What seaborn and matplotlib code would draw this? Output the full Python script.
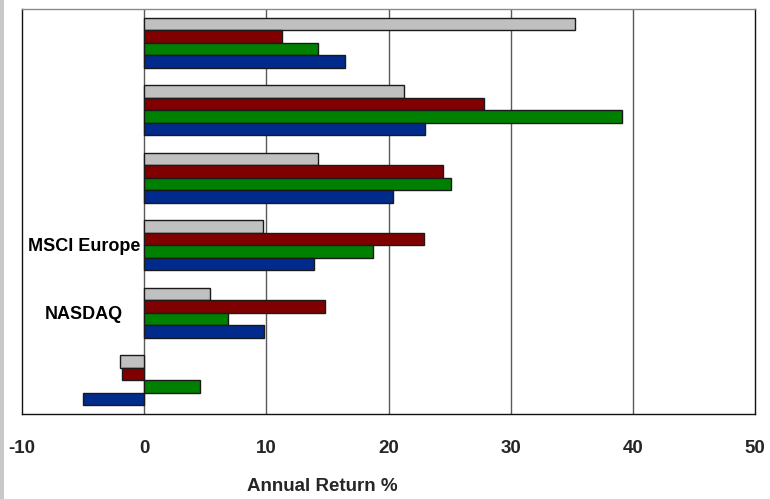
import matplotlib
matplotlib.use("Agg")
import matplotlib.pyplot as plt
import seaborn as sns
import pandas as pd
from matplotlib.patches import Rectangle

# Six categories, four return series per category (top to bottom in each group)
categories = ["C1", "C2", "C3", "C4", "C5", "C6"]
tick_labels = ["", "", "", "MSCI Europe", "NASDAQ", ""]
series = ["S1", "S2", "S3", "S4"]
colors = ["#C0C0C0", "#800000", "#008000", "#002A8C"]

s1 = [35.3, 21.3, 14.2, 9.7, 5.4, -2.0]
s2 = [11.3, 27.8, 24.5, 22.9, 14.8, -1.8]
s3 = [14.2, 39.1, 25.1, 18.7, 6.9, 4.6]
s4 = [16.4, 23.0, 20.4, 13.9, 9.8, -5.0]

x_ticks = [-10, 0, 10, 20, 30, 40, 50]

rows = []
for name, vals in zip(series, [s1, s2, s3, s4]):
    for cat, v in zip(categories, vals):
        rows.append({"category": cat, "series": name, "value": v})
df = pd.DataFrame(rows)

sns.set_theme(style="white")
plt.rcParams["font.family"] = ["Liberation Sans", "DejaVu Sans"]

fig = plt.figure(figsize=(7.7, 4.99), dpi=100)
fig.patch.set_facecolor("white")
fig.patches.append(Rectangle((0, 0), 4 / 770, 1, transform=fig.transFigure,
                             facecolor="#C8C8C8", edgecolor="none", zorder=0))

ax = fig.add_axes([22 / 770, 1 - 414 / 499, (755 - 22) / 770, (414 - 9) / 499])

sns.barplot(data=df, y="category", x="value", hue="series",
            order=categories, hue_order=series, palette=colors,
            orient="h", width=0.736, dodge=True, errorbar=None,
            edgecolor="#1a1a1a", linewidth=1.0, saturation=1.0,
            legend=False, ax=ax, zorder=3)

ax.set_xlim(-10, 50)
ax.set_ylim(5.5, -0.5)
ax.set_xticks(x_ticks)
ax.set_xticklabels([str(t) for t in x_ticks], fontsize=13.5, fontweight="bold")
ax.tick_params(axis="x", direction="out", length=5, width=1, color="black", pad=14)
ax.set_yticks([])
ax.set_ylabel("")
ax.set_xlabel("Annual Return %", fontsize=13.5, fontweight="bold")
ax.xaxis.set_label_coords((322 - 22) / 733, -(478 - 414) / 405)

# vertical gridlines behind the bars
for t in x_ticks[1:-1]:
    ax.axvline(t, color="#5a5a5a", linewidth=1.0, zorder=1)

for side in ["left", "bottom", "right"]:
    ax.spines[side].set_color("#111111")
    ax.spines[side].set_linewidth(1.0)
ax.spines["top"].set_color("#8a8a8a")
ax.spines["top"].set_linewidth(1.0)

# category labels sit between the left frame and the zero line
for i, lab in enumerate(tick_labels):
    if lab:
        ax.text(-4.9, i + 0.02, lab, ha="center", va="center",
                fontsize=13, fontweight="bold", color="black", zorder=4)

fig.savefig("out.png", dpi=100)
